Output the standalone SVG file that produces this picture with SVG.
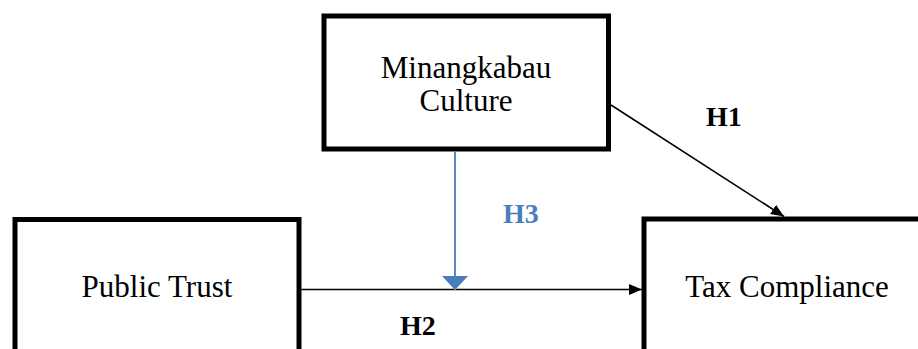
<svg xmlns="http://www.w3.org/2000/svg" width="918" height="349" viewBox="0 0 918 349">
<style>
.box{fill:#fff;stroke:#000;stroke-width:5}
.lbl{font-family:"Liberation Serif",serif;font-size:31px;fill:#000;text-anchor:middle}
.h{font-family:"Liberation Serif",serif;font-size:28px;font-weight:bold;fill:#000}
.con{stroke:#000;stroke-width:1.6;fill:none}
</style>
<defs>
<marker id="ab" markerUnits="userSpaceOnUse" markerWidth="13" markerHeight="11" refX="13" refY="5.5" orient="auto"><path d="M0,0 L13,5.5 L0,11 z" fill="#000"/></marker>
<marker id="abl" markerUnits="userSpaceOnUse" markerWidth="14" markerHeight="26" refX="14" refY="13" orient="auto"><path d="M0,0 L14,13 L0,26 z" fill="#4a7ebb"/></marker>
</defs>
<rect width="918" height="349" fill="#fff"/>
<g id="node-culture">
<rect class="box" x="324" y="16" width="284.5" height="133"/>
<text class="lbl" x="466" y="78">Minangkabau</text>
<text class="lbl" x="466" y="111">Culture</text>
</g>
<g id="node-trust">
<rect class="box" x="15" y="219.5" width="284" height="200"/>
<text class="lbl" x="157" y="297">Public Trust</text>
</g>
<g id="node-tax">
<rect class="box" x="644" y="219" width="320" height="200"/>
<text class="lbl" x="787" y="297">Tax Compliance</text>
</g>
<g id="connectors">
<line class="con" x1="301.5" y1="289.5" x2="642" y2="289.5" marker-end="url(#ab)"/>
<line class="con" x1="611" y1="105" x2="784" y2="216.5" marker-end="url(#ab)"/>
<line x1="455" y1="151.5" x2="455" y2="290" stroke="#4a7ebb" stroke-width="1.8" marker-end="url(#abl)"/>
</g>
<g id="labels">
<text class="h" x="706" y="126">H1</text>
<text class="h" x="400" y="335">H2</text>
<text class="h" x="503" y="223" fill="#4a7ebb" style="fill:#4a7ebb">H3</text>
</g>
</svg>
